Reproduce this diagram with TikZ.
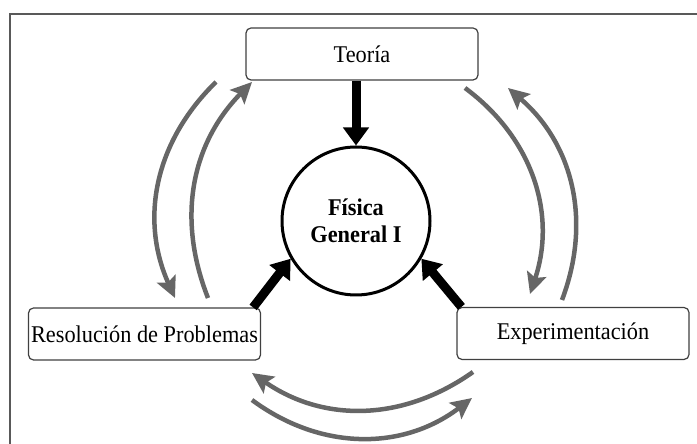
\documentclass[tikz,border=0pt]{standalone}
\usepackage{fontspec}
\setmainfont{Liberation Serif}[FakeStretch=0.93]
\usetikzlibrary{arrows.meta}

\begin{document}
\begin{tikzpicture}[x=1pt, y=1pt,
    box/.style={rectangle, rounded corners=5pt, draw=black!75, line width=1.2pt,
        fill=white, minimum width=232pt, minimum height=52pt, inner sep=0pt,
        font=\fontsize{24}{27}\selectfont},
    core/.style={circle, draw=black, line width=3pt, fill=white,
        minimum size=148pt, inner sep=0pt, align=center,
        font=\fontsize{24}{27}\selectfont\bfseries},
    feed/.style={line width=9pt, -{Triangle[length=18pt, width=25pt]}},
    link/.style={draw=black!60, line width=4.5pt,
        -{Stealth[length=21pt, width=20pt, inset=4pt]}}
]
    \useasboundingbox (0,0) rectangle (697,444);
    \draw[black!65, line width=1.5pt] (697,430) -- (10,430) -- (10,0);
    \node[box] (teoria) at (362,390) {Teoría};
    \node[box] (resol) at (144.5,110) {Resolución de Problemas};
    \node[box] (expe) at (573,110.5) {Experimentación};
    \node[core] (fisica) at (356,223) {Física\\General I};
    \coordinate (la) at (216,362);
    \coordinate (lb) at (175,146);
    \coordinate (lc) at (208,146);
    \coordinate (ld) at (252,362);
    \coordinate (ra) at (465,356);
    \coordinate (rb) at (530,150);
    \coordinate (rc) at (562,144);
    \coordinate (rd) at (508,356);
    \coordinate (ba) at (473,72);
    \coordinate (bb) at (252,71);
    \coordinate (bc) at (252,44);
    \coordinate (bd) at (472,46);
    \draw[feed] (teoria.south -| fisica.north) -- (fisica.north);
    \draw[feed] ([xshift=-8pt]resol.north east) -- (fisica.210);
    \draw[feed] ([xshift=5pt]expe.north west) -- (fisica.-30);
    \draw[link] (la) to[bend right=35] (lb);
    \draw[link] (lc) to[bend left=33] (ld);
    \draw[link] (ra) to[bend left=36] (rb);
    \draw[link] (rc) to[bend right=35] (rd);
    \draw[link] (ba) to[bend left=35] (bb);
    \draw[link] (bc) to[bend right=37] (bd);
\end{tikzpicture}
\end{document}
